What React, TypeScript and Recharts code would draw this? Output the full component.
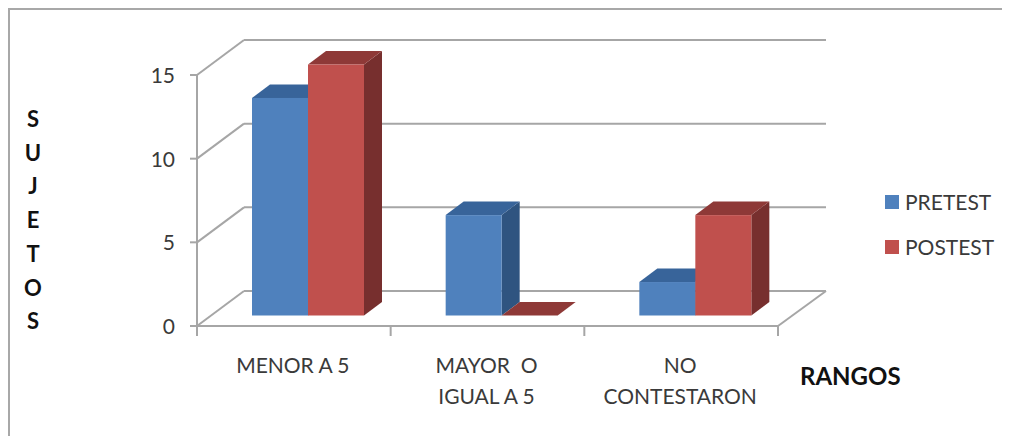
import React from "react";
import { BarChart, Bar, XAxis, YAxis, CartesianGrid, Legend } from "recharts";

const categories = ["MENOR A 5", "MAYOR  O|IGUAL A 5", "NO|CONTESTARON"];
const pretest = [13, 6, 2];
const postest = [15, 0, 6];
const yTicks = [0, 5, 10, 15];
const yAxisLetters = ["S", "U", "J", "E", "T", "O", "S"];
const xAxisTitle = "RANGOS";

const rows = categories.map((name, i) => ({ name, PRETEST: pretest[i], POSTEST: postest[i] }));

const WIDTH = 1002;
const HEIGHT = 428;
const X_AXIS_H = 30;
const Y_AXIS_W = 40;
const MARGIN = { top: 67, right: 232, bottom: 110 - X_AXIS_H, left: 149 };
const PLOT_BOTTOM = HEIGHT - MARGIN.bottom - X_AXIS_H;
const BAND = (WIDTH - MARGIN.left - MARGIN.right - Y_AXIS_W) / categories.length;

// Offsets that give the flat chart its oblique 3D look
const WALL_DX = 47;
const WALL_DY = -35;
const BAR_DX = 14;
const BAR_DY = -10.5;
const DEPTH_DX = 18;
const DEPTH_DY = -13.5;

const AXIS = "#A6A6A6";
const FONT = "Lato, sans-serif";

const BLUE = { front: "#4F81BD", top: "#38649A", side: "#2F5480" };
const RED = { front: "#C0504D", top: "#8E3937", side: "#772F2E" };

function box(colors: typeof BLUE) {
  return (p: any) => {
    const x = p.x + BAR_DX;
    const y = p.y + BAR_DY;
    const w = p.width;
    const h = p.height;
    const top = `${x},${y} ${x + DEPTH_DX},${y + DEPTH_DY} ${x + w + DEPTH_DX},${y + DEPTH_DY} ${x + w},${y}`;
    const side = `${x + w},${y} ${x + w + DEPTH_DX},${y + DEPTH_DY} ${x + w + DEPTH_DX},${y + h + DEPTH_DY} ${x + w},${y + h}`;
    return (
      <g>
        <polygon points={side} fill={colors.side} />
        <polygon points={top} fill={colors.top} />
        <rect x={x} y={y} width={w} height={h} fill={colors.front} />
      </g>
    );
  };
}

// Each horizontal grid line sits on the back wall, joined to the axis by a diagonal
function wallLine(p: any) {
  const { x1, x2, y1 } = p;
  const isFloor = Math.abs(y1 - PLOT_BOTTOM) < 1;
  const stroke = { stroke: AXIS, strokeWidth: 2, fill: "none" };
  return (
    <g key={p.key}>
      <line x1={x1} y1={y1} x2={x1 + WALL_DX} y2={y1 + WALL_DY} {...stroke} />
      <line x1={x1 + WALL_DX} y1={y1 + WALL_DY} x2={x2 + WALL_DX + 1} y2={y1 + WALL_DY} {...stroke} />
      {isFloor && <line x1={x2} y1={y1} x2={x2 + WALL_DX + 1} y2={y1 + WALL_DY} {...stroke} />}
    </g>
  );
}

function CategoryTick(p: any) {
  const { x, y, payload, index } = p;
  const lines = String(payload.value).split("|");
  return (
    <g>
      <line x1={x - BAND / 2} y1={y} x2={x - BAND / 2} y2={y + 10} stroke={AXIS} strokeWidth={2} />
      {index === categories.length - 1 && (
        <line x1={x + BAND / 2} y1={y} x2={x + BAND / 2} y2={y + 10} stroke={AXIS} strokeWidth={2} />
      )}
      {lines.map((line, i) => (
        <text
          key={i}
          x={x - 1}
          y={y + 47 + i * 31}
          textAnchor="middle"
          fontFamily={FONT}
          fontSize={21}
          fill="#3A3A3A"
          xmlSpace="preserve"
        >
          {line}
        </text>
      ))}
    </g>
  );
}

function ValueTick(p: any) {
  const { x, y, payload } = p;
  return (
    <g>
      <line x1={x - 7} y1={y} x2={x} y2={y} stroke={AXIS} strokeWidth={2} />
      <text x={x - 22} y={y + 8} textAnchor="end" fontFamily={FONT} fontSize={21} fill="#3A3A3A">
        {payload.value}
      </text>
    </g>
  );
}

function VerticalTitle() {
  return (
    <g>
      {yAxisLetters.map((letter, i) => (
        <text
          key={i}
          x={25}
          y={119 + i * 33.7}
          textAnchor="middle"
          fontFamily={FONT}
          fontWeight={700}
          fontSize={22}
          fill="#111"
        >
          {letter}
        </text>
      ))}
    </g>
  );
}

function HorizontalTitle() {
  return (
    <text x={792} y={377} fontFamily={FONT} fontWeight={700} fontSize={24} fill="#111">
      {xAxisTitle}
    </text>
  );
}

function LegendBox({ payload }: any) {
  return (
    <div style={{ fontFamily: FONT, fontSize: 21, color: "#3A3A3A" }}>
      {(payload ?? []).map((item: any) => (
        <div key={item.value} style={{ display: "flex", alignItems: "center", height: 23, marginBottom: 22 }}>
          <span
            style={{
              width: 14,
              height: 14,
              marginRight: 6,
              background: item.value === "PRETEST" ? BLUE.front : RED.front,
            }}
          />
          {item.value}
        </div>
      ))}
    </div>
  );
}

export default function App() {
  return (
    <div style={{ position: "relative", width: WIDTH, height: HEIGHT }}>
      <div
        style={{
          position: "absolute",
          left: 0,
          top: 0,
          width: WIDTH,
          height: HEIGHT,
          boxSizing: "border-box",
          borderLeft: "2px solid #A8A8A8",
          borderTop: "2px solid #A8A8A8",
        }}
      />
      <BarChart
        width={WIDTH}
        height={HEIGHT}
        data={rows}
        margin={MARGIN}
        barSize={56}
        barGap={0}
      >
        <CartesianGrid horizontal={wallLine} vertical={false} />
        <XAxis
          dataKey="name"
          height={X_AXIS_H}
          axisLine={{ stroke: AXIS, strokeWidth: 2 }}
          tickLine={false}
          tick={<CategoryTick />}
          tickSize={0}
          tickMargin={0}
          interval={0}
          label={<HorizontalTitle />}
        />
        <YAxis
          width={Y_AXIS_W}
          domain={[0, 15]}
          ticks={yTicks}
          axisLine={{ stroke: AXIS, strokeWidth: 2 }}
          tickLine={false}
          tickSize={0}
          tickMargin={0}
          tick={<ValueTick />}
          label={<VerticalTitle />}
        />
        <Legend
          layout="horizontal"
          verticalAlign="middle"
          align="center"
          itemSorter={null}
          content={<LegendBox />}
          wrapperStyle={{ left: 877, top: 182, width: 125, height: 90 }}
        />
        <Bar dataKey="PRETEST" fill={BLUE.front} shape={box(BLUE)} isAnimationActive={false} />
        <Bar dataKey="POSTEST" fill={RED.front} shape={box(RED)} isAnimationActive={false} />
      </BarChart>
    </div>
  );
}
